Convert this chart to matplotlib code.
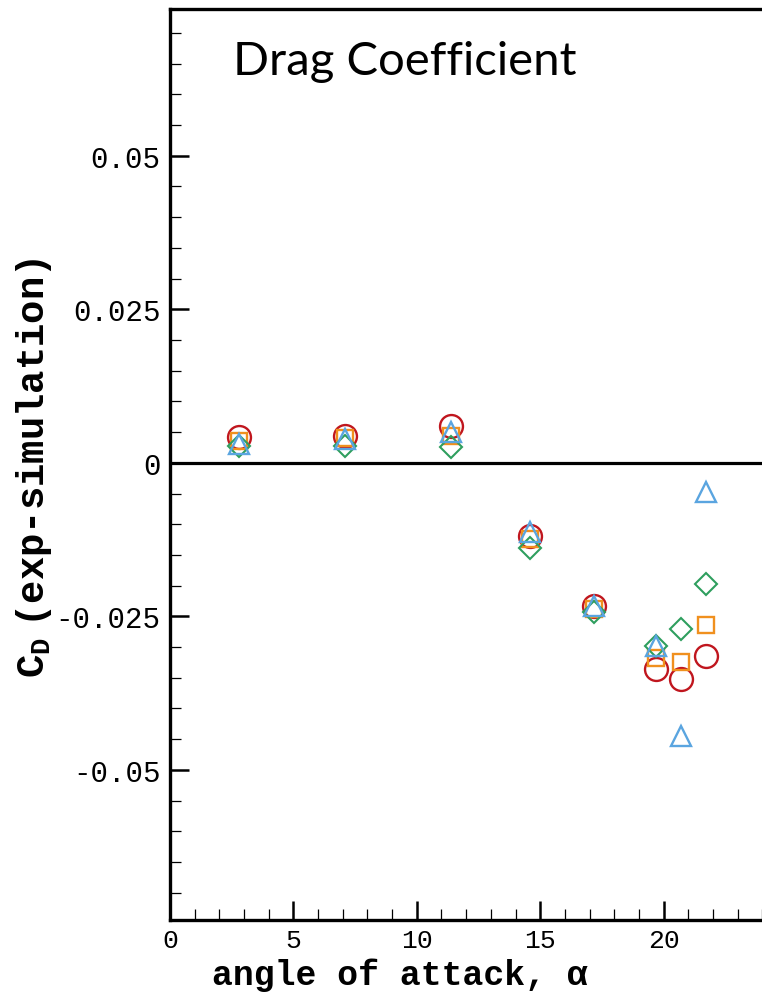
import matplotlib.pyplot as plt
from matplotlib.ticker import MultipleLocator, FixedLocator

# angle of attack for each test point
alpha = [2.8, 7.1, 11.4, 14.6, 17.2, 19.7, 20.7, 21.7]

# C_D (exp - simulation) for each case
cd_circle = [0.0042, 0.0044, 0.0060, -0.0119, -0.0233, -0.0335, -0.0352, -0.0314]
cd_square = [0.0036, 0.0040, 0.0044, -0.0124, -0.0238, -0.0318, -0.0324, -0.0264]
cd_diamond = [0.0028, 0.0028, 0.0026, -0.0138, -0.0243, -0.0298, -0.0270, -0.0197]
cd_triangle = [0.0030, 0.0039, 0.0050, -0.0112, -0.0233, -0.0298, -0.0445, -0.0047]

x_ticks = [0, 5, 10, 15, 20]
y_ticks = [-0.05, -0.025, 0, 0.025, 0.05]
y_ticklabels = ["-0.05", "-0.025", "0", "0.025", "0.05"]

mono = "Liberation Mono"

fig = plt.figure(figsize=(7.62, 10.04), dpi=100)
# axes runs past the right edge, like the cropped original
ax = fig.add_axes([170 / 762, 83.3 / 1004, 617 / 762, 910.7 / 1004])

ax.plot(alpha, cd_circle, "o", ms=16.5, mfc="none", mec="#C0161E", mew=1.7, zorder=3)
ax.plot(alpha, cd_square, "s", ms=12.2, mfc="none", mec="#F0901E", mew=1.7, zorder=4)
ax.plot(alpha, cd_diamond, "D", ms=11.6, mfc="none", mec="#2E9E5E", mew=1.5, zorder=5)
ax.plot(alpha, cd_triangle, "^", ms=14.5, mfc="none", mec="#5AA5E0", mew=1.7, zorder=6)

ax.axhline(0, color="black", lw=2.3, zorder=2)

ax.set_xlim(0, 25)
ax.set_ylim(-0.0744, 0.0739)

ax.xaxis.set_major_locator(FixedLocator(x_ticks))
ax.xaxis.set_minor_locator(MultipleLocator(1))
ax.yaxis.set_major_locator(FixedLocator(y_ticks))
ax.yaxis.set_minor_locator(MultipleLocator(0.005))
ax.set_yticklabels(y_ticklabels)

ax.tick_params(which="major", direction="in", length=14, width=1.8, top=False, right=False)
ax.tick_params(which="minor", direction="in", length=8, width=0.9, top=False, right=False)
ax.tick_params(axis="y", which="major", pad=7)
ax.tick_params(axis="x", which="major", pad=6)

for lab in ax.get_xticklabels():
    lab.set_fontfamily(mono)
    lab.set_fontsize(19)
for lab in ax.get_yticklabels():
    lab.set_fontfamily(mono)
    lab.set_fontsize(21)

for s in ["left", "bottom", "top"]:
    ax.spines[s].set_linewidth(2.4)
ax.spines["right"].set_visible(False)

fig.text(400 / 762, 1 - 975 / 1004, "angle of attack, α", ha="center", va="center",
         fontsize=25, fontweight="bold", family=mono)
fig.text(34 / 762, 1 - 468 / 1004, r"C$_\mathregular{D}\;$(exp-simulation)", ha="center", va="center",
         rotation=90, fontsize=28, fontweight="bold", family=mono)

fig.text(233 / 762, 1 - 75 / 1004, "Drag Coefficient", ha="left", va="baseline",
         fontsize=34, family="Lato")

fig.savefig("out.png", dpi=100)
